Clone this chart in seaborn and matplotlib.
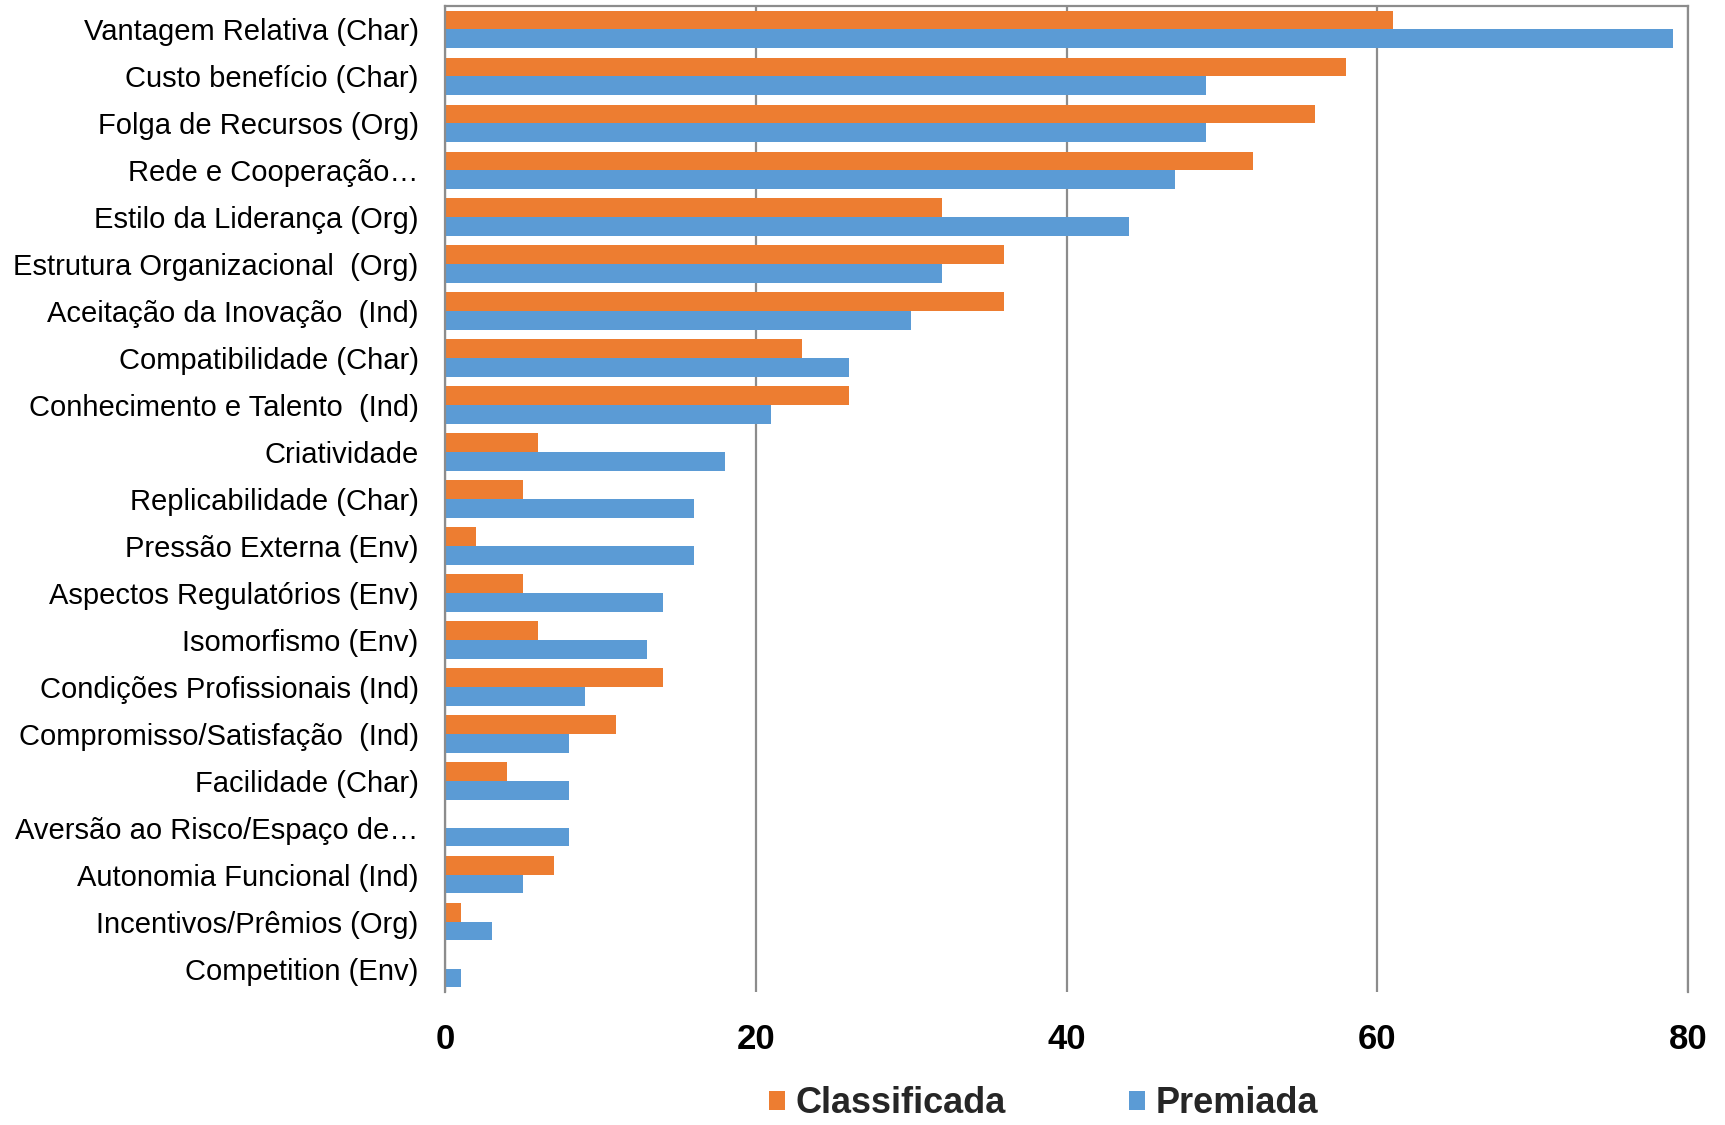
import matplotlib

matplotlib.use("Agg")
import matplotlib.pyplot as plt
import pandas as pd
import seaborn as sns

categorias = [
    "Vantagem Relativa (Char)",
    "Custo benefício (Char)",
    "Folga de Recursos (Org)",
    "Rede e Cooperação…",
    "Estilo da Liderança (Org)",
    "Estrutura Organizacional  (Org)",
    "Aceitação da Inovação  (Ind)",
    "Compatibilidade (Char)",
    "Conhecimento e Talento  (Ind)",
    "Criatividade",
    "Replicabilidade (Char)",
    "Pressão Externa (Env)",
    "Aspectos Regulatórios (Env)",
    "Isomorfismo (Env)",
    "Condições Profissionais (Ind)",
    "Compromisso/Satisfação  (Ind)",
    "Facilidade (Char)",
    "Aversão ao Risco/Espaço de…",
    "Autonomia Funcional (Ind)",
    "Incentivos/Prêmios (Org)",
    "Competition (Env)",
]
classificada = [61, 58, 56, 52, 32, 36, 36, 23, 26, 6, 5, 2, 5, 6, 14, 11, 4, 0, 7, 1, 0]
premiada = [79, 49, 49, 47, 44, 32, 30, 26, 21, 18, 16, 16, 14, 13, 9, 8, 8, 8, 5, 3, 1]
series = ["Classificada", "Premiada"]
cores = ["#ED7D31", "#5B9BD5"]
ticks_x = [0, 20, 40, 60, 80]

df = pd.DataFrame({
    "categoria": categorias * 2,
    "serie": [series[0]] * len(categorias) + [series[1]] * len(categorias),
    "valor": classificada + premiada,
})

sns.set_theme(style="white")
plt.rcParams["font.family"] = ["Liberation Sans", "DejaVu Sans"]

cinza = "#8c8c8c"

fig = plt.figure(figsize=(17.25, 11.25), dpi=100)
ax = fig.add_axes([0.258, 0.1182, 0.7206, 0.8765])

sns.barplot(data=df, y="categoria", x="valor", hue="serie", order=categorias,
            hue_order=series, palette=cores, orient="h", width=0.8,
            errorbar=None, saturation=1, linewidth=0, ax=ax)

ax.set_xlim(0, 80)
ax.set_xticks(ticks_x)
ax.set_xlabel("")
ax.set_ylabel("")
ax.set_axisbelow(True)
ax.xaxis.grid(True, color=cinza, linewidth=1.6)
ax.yaxis.grid(False)

for lado in ["left", "top", "right"]:
    ax.spines[lado].set_visible(True)
    ax.spines[lado].set_color(cinza)
    ax.spines[lado].set_linewidth(1.6)
ax.spines["bottom"].set_visible(False)

ax.tick_params(axis="y", length=0, pad=19, labelsize=21, labelcolor="black")
ax.tick_params(axis="x", length=0, pad=22, labelsize=25, labelcolor="black")
for t in ax.get_xticklabels():
    t.set_fontweight("bold")

sns.move_legend(ax, "center", bbox_to_anchor=(0.4815, -0.1135), ncol=2,
                frameon=False, title=None, handlelength=0.45, handleheight=0.45,
                handletextpad=0.3, columnspacing=3.4,
                prop={"size": 26, "weight": "bold"})

fig.savefig("out.png", dpi=100)
plt.close(fig)
